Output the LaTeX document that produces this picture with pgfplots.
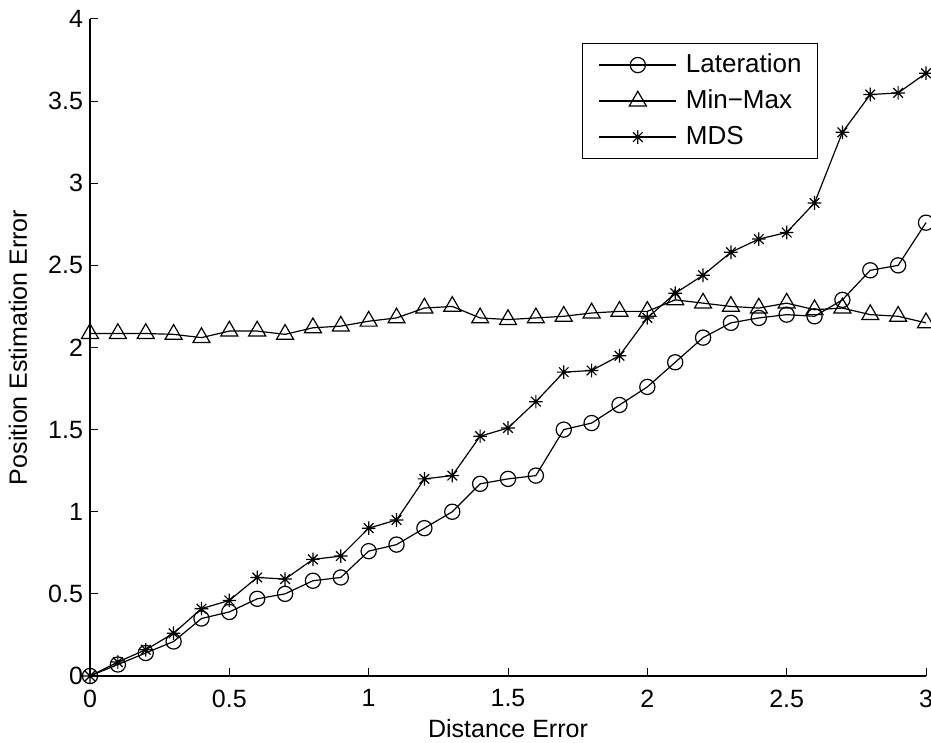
\documentclass[border=0pt]{standalone}
\usepackage{fontspec}
\setmainfont{Liberation Sans}
\usepackage{pgfplots}
\pgfplotsset{compat=1.18}
\usetikzlibrary{calc}
\pgfdeclareplotmark{mstar}{%
 \pgfpathmoveto{\pgfpoint{-\pgfplotmarksize}{0pt}}\pgfpathlineto{\pgfpoint{\pgfplotmarksize}{0pt}}%
 \pgfpathmoveto{\pgfpoint{0pt}{-\pgfplotmarksize}}\pgfpathlineto{\pgfpoint{0pt}{\pgfplotmarksize}}%
 \pgfpathmoveto{\pgfpoint{-0.707\pgfplotmarksize}{-0.707\pgfplotmarksize}}\pgfpathlineto{\pgfpoint{0.707\pgfplotmarksize}{0.707\pgfplotmarksize}}%
 \pgfpathmoveto{\pgfpoint{-0.707\pgfplotmarksize}{0.707\pgfplotmarksize}}\pgfpathlineto{\pgfpoint{0.707\pgfplotmarksize}{-0.707\pgfplotmarksize}}%
 \pgfusepathqstroke}
\begin{document}
\begin{tikzpicture}
\begin{axis}[
  name=ax,
  scale only axis,
  width=418pt, height=328.5pt,
  xmin=0, xmax=3, ymin=0, ymax=4,
  axis lines*=left,
  axis line style={-, line width=0.6pt},
  xtick={0,0.5,1,1.5,2,2.5,3},
  ytick={0,0.5,1,1.5,2,2.5,3,3.5,4},
  tick align=inside,
  major tick length=4pt,
  tick style={black, line width=0.5pt},
  /pgf/number format/assume math mode=true,
  ticklabel style={font=\fontsize{12.5}{15}\selectfont},
  xticklabel style={yshift=-3.3pt},
  xlabel={Distance Error},
  ylabel={Position Estimation Error},
  label style={font=\fontsize{12.5}{15}\selectfont},
  xlabel style={at={(axis description cs:0.5,-0.0807)}, anchor=center},
  ylabel style={at={(axis description cs:-0.0861,0.5)}, anchor=center, rotate=0},
  clip=false,
  legend style={at={(0.871,0.9635)}, anchor=north east, draw=black, line width=0.6pt,
    font=\fontsize{13}{15.6}\selectfont, inner xsep=8pt, inner ysep=4.25pt,
    nodes={inner sep=0pt, text height=10pt, text depth=3pt},
    row sep=5pt, column sep=4.5pt},
  legend cell align=left,
  legend image code/.code={\draw[mark repeat=2, mark phase=2] plot coordinates {(0pt,0pt) (19.25pt,0pt) (38.5pt,0pt)};},
]
\addplot[black, line width=0.6pt, mark=o, mark size=3.8pt, mark options={solid, line width=0.6pt}] coordinates {
(0,0) (0.1,0.07) (0.2,0.14) (0.3,0.21) (0.4,0.35) (0.5,0.39) (0.6,0.47) (0.7,0.50)
(0.8,0.58) (0.9,0.60) (1.0,0.76) (1.1,0.80) (1.2,0.90) (1.3,1.00) (1.4,1.17) (1.5,1.20)
(1.6,1.22) (1.7,1.50) (1.8,1.54) (1.9,1.65) (2.0,1.76) (2.1,1.91) (2.2,2.06) (2.3,2.15)
(2.4,2.18) (2.5,2.20) (2.6,2.19) (2.7,2.29) (2.8,2.47) (2.9,2.50) (3.0,2.76)};
\addlegendentry{Lateration}
\addplot[black, line width=0.6pt, mark=triangle, mark size=4.9pt, mark options={solid, line width=0.6pt}] coordinates {
(0,2.085) (0.1,2.085) (0.2,2.085) (0.3,2.08) (0.4,2.06) (0.5,2.10) (0.6,2.10) (0.7,2.08)
(0.8,2.12) (0.9,2.13) (1.0,2.16) (1.1,2.18) (1.2,2.24) (1.3,2.25) (1.4,2.18) (1.5,2.17)
(1.6,2.18) (1.7,2.19) (1.8,2.21) (1.9,2.22) (2.0,2.22) (2.1,2.29) (2.2,2.27) (2.3,2.25)
(2.4,2.24) (2.5,2.27) (2.6,2.23) (2.7,2.24) (2.8,2.20) (2.9,2.19) (3.0,2.15)};
\addlegendentry{Min\textminus Max}
\addplot[black, line width=0.6pt, mark=mstar, mark size=3.4pt, mark options={solid, line width=0.6pt}] coordinates {
(0,0) (0.1,0.085) (0.2,0.16) (0.3,0.26) (0.4,0.41) (0.5,0.46) (0.6,0.60) (0.7,0.59)
(0.8,0.71) (0.9,0.73) (1.0,0.90) (1.1,0.95) (1.2,1.20) (1.3,1.22) (1.4,1.46) (1.5,1.51)
(1.6,1.67) (1.7,1.85) (1.8,1.86) (1.9,1.95) (2.0,2.18) (2.1,2.33) (2.2,2.44) (2.3,2.58)
(2.4,2.66) (2.5,2.70) (2.6,2.88) (2.7,3.31) (2.8,3.54) (2.9,3.55) (3.0,3.67)};
\addlegendentry{MDS}
\end{axis}
\pgfresetboundingbox
\path ($(ax.south west)+(-45pt,-33.5pt)$) rectangle ($(ax.north east)+(2.5pt,9.5pt)$);
\end{tikzpicture}
\end{document}
